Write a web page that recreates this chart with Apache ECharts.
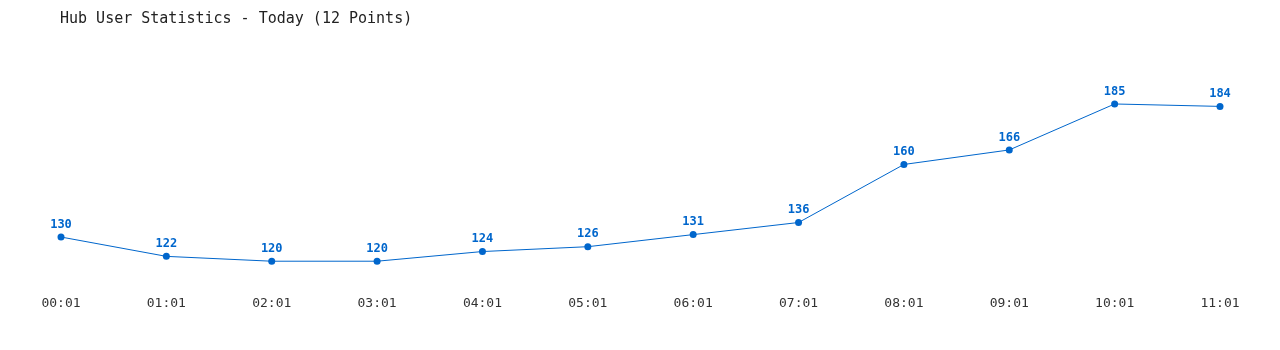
<!DOCTYPE html>
<html><head><meta charset="utf-8">
<script src="https://cdn.jsdelivr.net/npm/echarts@6/dist/echarts.min.js"></script>
<style>html,body{margin:0;padding:0;background:#fff}#c{width:1280px;height:350px}</style>
</head><body><div id="c"></div>
<script>
const categories = ['00:01','01:01','02:01','03:01','04:01','05:01','06:01','07:01','08:01','09:01','10:01','11:01'];
const users = [130,122,120,120,124,126,131,136,160,166,185,184];
const titleText = 'Hub User Statistics - Today (12 Points)';
const font = '"DejaVu Sans Mono", "Liberation Mono", monospace';
const chart = echarts.init(document.getElementById('c'));
chart.setOption({
  animation: false,
  backgroundColor: '#fff',
  title: { text: titleText, left: 55, top: 7, textStyle: { fontFamily: font, fontSize: 15, fontWeight: 'normal', color: '#222' } },
  grid: { left: 61, right: 60, top: 67.7, bottom: 64.6, containLabel: false },
  xAxis: {
    type: 'category', data: categories, boundaryGap: false,
    axisLine: { show: false }, axisTick: { show: false }, splitLine: { show: false },
    axisLabel: { fontFamily: font, fontSize: 13, color: '#333', margin: 12 }
  },
  yAxis: { type: 'value', min: 110, max: 200, show: false, splitLine: { show: false } },
  series: [{
    type: 'line', data: users, symbol: 'circle', symbolSize: 7,
    lineStyle: { color: '#0066cc', width: 1 }, itemStyle: { color: '#0066cc' },
    label: { show: true, position: 'top', distance: 3, fontFamily: font, fontSize: 12, fontWeight: 'bold', color: '#0066cc' }
  }]
});
</script></body></html>
